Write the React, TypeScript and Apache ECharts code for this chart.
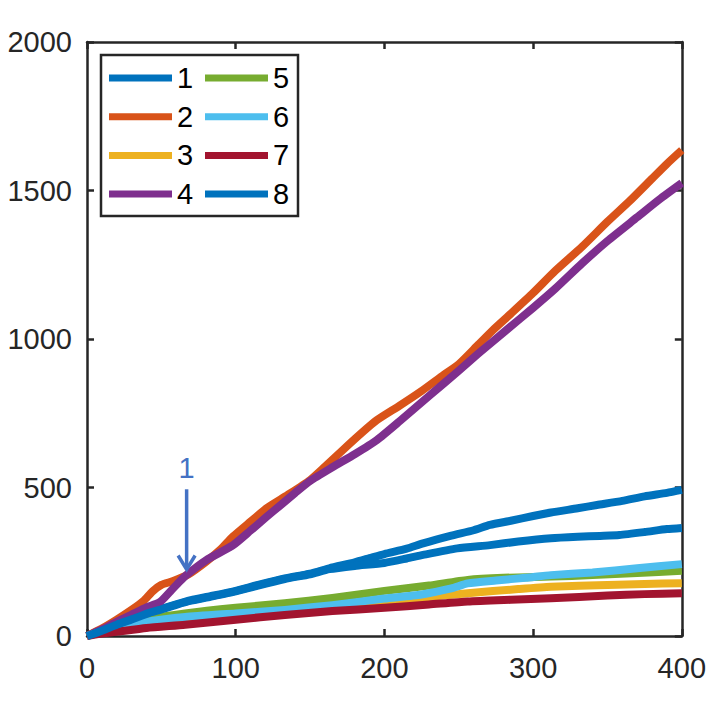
import React, { useEffect, useRef } from "react";
import * as echarts from "echarts";

// ---- data ----
const seriesNames = ["1", "2", "3", "4", "5", "6", "7", "8"];
const seriesColors = ["#0072BD", "#D95319", "#EDB120", "#7E2F8E", "#77AC30", "#4DBEEE", "#A2142F", "#0072BD"];

const s1 = [[0,0],[10,20],[20,40],[30,58],[42,80],[49,90],[60,107],[70,121],[83,134],[100,152],[115,172],[133,194],[150,210],[163,228],[180,248],[190,262],[200,276],[215,294],[226,312],[245,338],[260,356],[271,374],[285,388],[300,404],[312,416],[330,430],[343,441],[360,455],[375,470],[390,482],[400,492]];
const s2 = [[0,0],[10,25],[20,55],[30,88],[38,118],[44,150],[50,172],[58,185],[68,207],[80,250],[90,292],[98,334],[110,385],[121,431],[135,475],[150,525],[160,570],[172,626],[185,685],[195,727],[210,775],[225,825],[240,880],[250,915],[263,980],[273,1030],[285,1085],[300,1155],[315,1230],[333,1311],[350,1395],[365,1465],[380,1540],[390,1590],[400,1636]];
const s3 = [[0,0],[10,14],[20,28],[40,50],[66,62],[100,74],[133,86],[165,98],[200,114],[230,131],[256,144],[290,158],[312,166],[350,172],[375,175],[400,178]];
const s4 = [[0,0],[10,22],[20,48],[30,72],[40,96],[49,114],[56,150],[62,182],[67,206],[80,255],[98,305],[110,355],[120,398],[130,440],[140,482],[150,522],[165,568],[180,612],[195,660],[210,722],[230,808],[250,893],[263,950],[282,1030],[300,1105],[315,1170],[333,1255],[350,1330],[370,1410],[385,1470],[400,1525]];
const s5 = [[0,0],[10,14],[20,28],[43,58],[66,76],[100,95],[133,110],[165,128],[200,152],[230,170],[256,189],[280,196],[312,200],[340,205],[370,212],[400,220]];
const s6 = [[0,0],[10,14],[20,27],[40,48],[66,64],[100,76],[133,88],[165,104],[200,126],[225,140],[245,160],[256,177],[275,187],[295,196],[312,205],[340,214],[370,228],[400,242]];
const s7 = [[0,0],[10,8],[21,15],[40,27],[66,38],[100,55],[133,71],[165,84],[200,95],[230,106],[256,116],[285,122],[312,127],[350,136],[375,141],[400,144]];
const s8 = [[0,0],[10,18],[20,38],[30,56],[42,78],[49,88],[60,105],[70,119],[83,132],[100,150],[115,170],[133,192],[150,208],[163,225],[180,236],[200,246],[215,261],[226,273],[249,295],[271,306],[290,318],[312,329],[330,334],[345,337],[358,340],[375,350],[390,360],[400,364]];
const seriesData = [s1, s2, s3, s4, s5, s6, s7, s8];

const xTicks = { min: 0, max: 400, interval: 100 };
const yTicks = { min: 0, max: 2000, interval: 500 };

// annotation "1" arrow, in data coordinates
const annotX = 67;
const annotTipY = 224;
const annotTailY = 494;
const annotLabelY = 565;
const annotText = "1";

const AXIS = "#262626";
const FONT = "Liberation Sans, Arial, Helvetica, sans-serif";

export default function App() {
  const ref = useRef<HTMLDivElement>(null);
  useEffect(() => {
    document.body.style.margin = "0";
    if (!ref.current) return;
    const chart = echarts.init(ref.current, null, { renderer: "svg" });

    const axisCommon = {
      type: "value" as const,
      axisLine: { show: true, onZero: false, lineStyle: { color: AXIS, width: 2.5 } },
      axisTick: { show: true, inside: true, length: 7, lineStyle: { color: AXIS, width: 2.5 } },
      splitLine: { show: false },
    };
    const labelStyle = {
      color: AXIS,
      fontSize: 29,
      fontFamily: FONT,
      formatter: (v: number) => String(v),
    };

    const legendCommon = {
      orient: "vertical" as const,
      icon: "rect",
      itemWidth: 63,
      itemHeight: 7,
      itemGap: 9.7,
      padding: 0,
      top: 63.5,
      textStyle: { color: "#000", fontSize: 29, lineHeight: 29, fontFamily: FONT },
      selectedMode: false,
    };

    chart.setOption({
      animation: false,
      backgroundColor: "#fff",
      grid: { left: 87, right: 27, top: 42, bottom: 73, containLabel: false },
      xAxis: [
        { ...axisCommon, position: "bottom", ...xTicks, axisLabel: { ...labelStyle, margin: 17 } },
        { ...axisCommon, position: "top", ...xTicks, axisLabel: { show: false } },
      ],
      yAxis: [
        { ...axisCommon, position: "left", ...yTicks, axisLabel: { ...labelStyle, margin: 15 } },
        { ...axisCommon, position: "right", ...yTicks, axisLabel: { show: false } },
      ],
      legend: [
        { ...legendCommon, left: 109, data: seriesNames.slice(0, 4) },
        { ...legendCommon, left: 205, data: seriesNames.slice(4, 8) },
      ],
      series: seriesNames.map((name, i) => ({
        name,
        type: "line",
        data: seriesData[i],
        showSymbol: false,
        symbol: "none",
        smooth: 0.2,
        color: seriesColors[i],
        lineStyle: { width: 8, color: seriesColors[i], cap: "butt", join: "round" },
        xAxisIndex: 0,
        yAxisIndex: 0,
      })),
    });

    const tip = chart.convertToPixel({ gridIndex: 0 }, [annotX, annotTipY]) as number[];
    const tail = chart.convertToPixel({ gridIndex: 0 }, [annotX, annotTailY]) as number[];
    const lab = chart.convertToPixel({ gridIndex: 0 }, [annotX, annotLabelY]) as number[];

    chart.setOption({
      graphic: [
        {
          type: "rect",
          z: 3,
          shape: { x: 101, y: 55, width: 197, height: 161 },
          style: { fill: "#fff", stroke: AXIS, lineWidth: 2.5 },
        },
        {
          type: "line",
          z: 10,
          shape: { x1: tail[0], y1: tail[1], x2: tip[0], y2: tip[1] - 1 },
          style: { stroke: "#4472C4", lineWidth: 3.5 },
        },
        {
          type: "polyline",
          z: 10,
          shape: { points: [[tip[0] - 8.5, tip[1] - 14], [tip[0], tip[1]], [tip[0] + 8.5, tip[1] - 14]] },
          style: { stroke: "#4472C4", lineWidth: 3.5, fill: "none" },
        },
        {
          type: "text",
          z: 10,
          x: lab[0],
          y: lab[1],
          style: {
            text: annotText,
            fill: "#4472C4",
            fontSize: 29,
            fontFamily: FONT,
            align: "center",
            verticalAlign: "middle",
          },
        },
      ],
    });

    return () => chart.dispose();
  }, []);
  return <div ref={ref} style={{ width: 709, height: 709 }} />;
}
